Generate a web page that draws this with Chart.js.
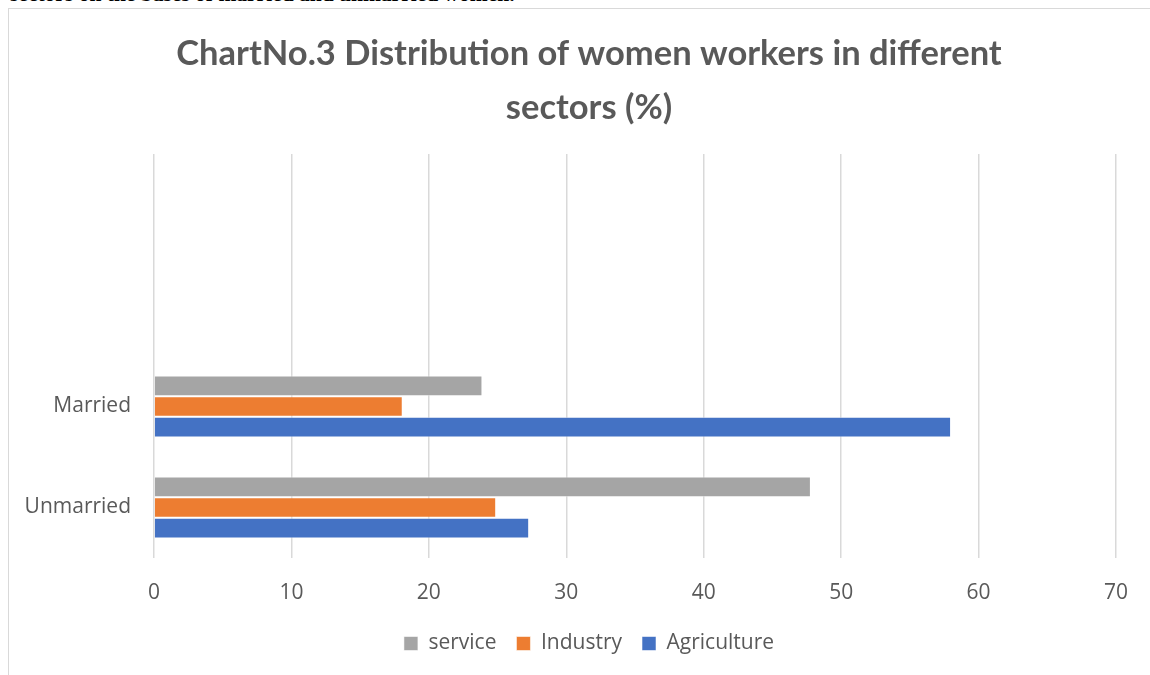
<!DOCTYPE html>
<html>
<head>
<meta charset="utf-8">
<script src="https://cdn.jsdelivr.net/npm/chart.js@4.4.1/dist/chart.umd.min.js"></script>
<style>
  html, body { margin: 0; padding: 0; background: #fff; }
  body { width: 1150px; height: 675px; overflow: hidden; position: relative; }
  #frame { position: absolute; left: 8px; top: 8px; width: 1200px; height: 700px; border: 1.5px solid #d9d9d9; }
  #cut { position: absolute; left: 10px; top: -16px; font: bold 21.5px "Liberation Serif", serif; line-height: 21.5px; color: #000; white-space: nowrap; }
  #c { position: absolute; left: 0; top: 0; }
</style>
</head>
<body>
<div id="cut">sectors on the bases of married and unmarried women.</div>
<div id="frame"></div>
<canvas id="c" width="1150" height="675"></canvas>
<script>
// chart values
var categories = ['', ' ', 'Married', 'Unmarried'];
var service_vals = [null, null, 23.9, 47.8];
var industry_vals = [null, null, 18.1, 24.9];
var agriculture_vals = [null, null, 58.0, 27.3];
var series_names = ['service', 'Industry', 'Agriculture'];
var x_min = 0, x_max = 70, x_step = 10;

var txt = '#595959';
var tickFont = { family: '"Open Sans"', size: 21 };

// y labels are clipped to the scale box, widen it after layout
var unclipY = {
  id: 'unclipY',
  afterLayout: function (c) { c.scales.y.left = 0; }
};

var chart = new Chart(document.getElementById('c').getContext('2d'), {
  type: 'bar',
  data: {
    labels: categories,
    datasets: [
      { label: series_names[0], data: service_vals, backgroundColor: '#A5A5A5' },
      { label: series_names[1], data: industry_vals, backgroundColor: '#ED7D31' },
      { label: series_names[2], data: agriculture_vals, backgroundColor: '#4472C4' }
    ]
  },
  options: {
    indexAxis: 'y',
    responsive: false,
    animation: false,
    datasets: {
      bar: {
        categoryPercentage: 0.614,
        barPercentage: 1,
        borderWidth: 1,
        borderColor: 'rgba(255,255,255,0.55)'
      }
    },
    layout: { padding: { left: 59, right: 31, top: 0, bottom: 11 } },
    scales: {
      x: {
        min: x_min,
        max: x_max,
        ticks: { stepSize: x_step, color: txt, font: tickFont, padding: 22 },
        grid: { color: '#d9d9d9', lineWidth: 1.5, drawTicks: false },
        border: { display: false },
        afterFit: function (s) { s.height = 55; }
      },
      y: {
        ticks: { color: txt, font: tickFont, padding: 23 },
        grid: { display: false, drawTicks: false },
        border: { display: false },
        afterFit: function (s) { s.width = 95; }
      }
    },
    plugins: {
      title: {
        display: true,
        text: ['ChartNo.3 Distribution of women workers in different', 'sectors (%)'],
        color: txt,
        font: { family: 'Lato', size: 34.5, weight: 'bold', lineHeight: '54px' },
        padding: { top: 27, bottom: 19 }
      },
      legend: {
        position: 'bottom',
        labels: {
          color: txt,
          font: tickFont,
          boxWidth: 14,
          boxHeight: 14,
          padding: 20
        }
      },
      tooltip: { enabled: false }
    }
  },
  plugins: [unclipY]
});
</script>
</body>
</html>
